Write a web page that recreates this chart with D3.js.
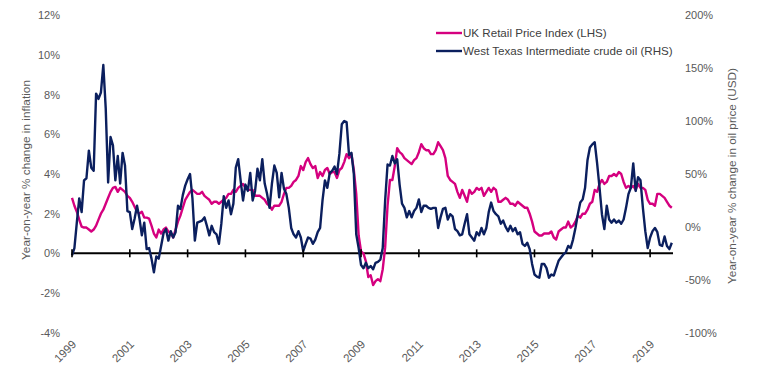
<!DOCTYPE html>
<html><head><meta charset="utf-8">
<script src="https://cdn.jsdelivr.net/npm/d3@7"></script>
<style>
body{margin:0;background:#fff}
svg{display:block;font-family:"Liberation Sans",Arial,Helvetica,sans-serif}
</style>
</head><body>
<svg id="chart" width="757" height="378"></svg>
<script>
// Monthly data, Jan 1999 - Oct 2019
const startYear = 1999;
const tickYears = ["1999","2001","2003","2005","2007","2009","2011","2013","2015","2017","2019"];
const seriesNames = ["UK Retail Price Index (LHS)", "West Texas Intermediate crude oil (RHS)"];
const leftTicks = [-4,-2,0,2,4,6,8,10,12];
const rightTicks = [-100,-50,0,50,100,150,200];

// UK RPI year-on-year % (LHS)
const rpi = [
 2.8,2.4,2.1,1.7,1.35,1.3,1.3,1.2,1.1,1.2,1.4,1.7,
 2.0,2.2,2.5,2.8,3.1,3.3,3.35,3.1,3.3,3.2,3.1,2.9,
 2.8,2.6,2.35,2.1,2.0,2.1,1.8,1.8,1.75,1.4,1.0,0.8,
 1.2,1.0,1.2,1.3,1.1,1.0,0.8,1.2,1.6,1.9,2.3,2.7,
 2.9,3.1,3.2,3.1,3.0,3.0,3.1,2.9,2.8,2.7,2.5,2.6,
 2.6,2.5,2.6,2.7,2.8,3.0,3.0,3.2,3.1,3.3,3.4,3.5,
 3.3,3.2,3.2,3.2,2.9,2.9,2.9,2.8,2.7,2.5,2.4,2.2,
 2.4,2.4,2.4,2.6,3.0,3.3,3.3,3.4,3.6,3.7,3.9,4.4,
 4.2,4.6,4.8,4.5,4.3,4.4,3.8,4.1,3.9,4.2,4.3,4.0,
 4.1,4.1,3.8,4.2,4.3,4.6,5.0,4.8,5.0,4.2,3.0,0.9,
 0.1,0.0,-0.4,-1.2,-1.1,-1.6,-1.4,-1.3,-1.4,-0.8,0.3,2.4,
 3.7,3.7,4.4,5.3,5.1,5.0,4.8,4.7,4.6,4.5,4.7,4.8,
 5.1,5.5,5.3,5.2,5.2,5.0,5.0,5.2,5.6,5.4,5.2,4.8,
 3.9,3.7,3.6,3.5,3.1,2.8,3.2,2.9,2.6,3.2,3.0,3.1,
 3.3,3.2,3.3,2.9,3.1,3.3,3.1,3.3,3.2,2.6,2.6,2.7,
 2.8,2.7,2.5,2.5,2.4,2.6,2.5,2.4,2.3,2.3,2.0,1.6,
 1.1,1.0,0.9,0.9,1.0,1.0,1.0,1.1,0.8,0.7,1.1,1.2,
 1.3,1.3,1.6,1.3,1.4,1.6,1.9,1.8,2.0,2.0,2.2,2.5,
 2.6,3.2,3.1,3.5,3.7,3.5,3.6,3.9,3.9,4.0,3.9,4.1,
 4.0,3.6,3.3,3.4,3.3,3.4,3.2,3.5,3.3,3.3,3.2,2.7,
 2.5,2.5,2.4,3.0,3.0,2.9,2.8,2.6,2.4,2.3
];

// WTI crude oil year-on-year % (RHS)
const wti = [
 -27,-20,4,27,14,44,46,72,56,53,126,121,
 127,153,112,42,85,77,44,67,41,70,58,15,
 14,-2,8,20,8,-8,4,-21,-20,-30,-43,-28,
 -30,-18,-6,-2,-13,-4,-10,-5,20,17,30,39,
 45,50,27,-13,4,5,6,9,1,-8,1,-5,
 -7,-16,3,29,18,25,12,22,56,64,44,25,
 40,34,51,25,34,55,44,64,41,31,18,41,
 58,51,28,51,36,31,18,-1,-7,-10,-4,-10,
 -23,-16,-10,-11,-16,-12,-5,-1,25,44,37,51,
 53,57,50,69,97,100,99,68,70,50,-7,-20,
 -36,-39,-34,-39,-37,-40,-34,-33,-31,-20,25,59,
 58,67,60,64,40,22,18,9,15,9,15,18,
 26,14,20,20,18,17,18,18,-1,9,17,18,
 7,12,10,-2,-4,-8,-7,3,12,-7,-10,-13,
 -5,-8,-1,-7,-1,14,23,15,12,10,3,6,
 0,-4,1,-4,-1,-7,-5,-16,-18,-15,-21,-35,
 -45,-47,-48,-35,-35,-39,-48,-45,-46,-39,-32,-29,
 -26,-24,-18,-20,-12,-1,12,23,26,37,63,75,
 78,80,60,37,12,-2,20,7,4,7,4,6,
 3,7,18,31,37,60,34,47,44,18,-4,-20,
 -10,-4,-1,-5,-17,-18,-9,-18,-21,-15
];

const colors = {rpi:"#d5007f", wti:"#0b1f5e", label:"#595959", legend:"#404040"};

const svg = d3.select("#chart");
const nMonths = rpi.length;
const x = d3.scaleLinear().domain([0, nMonths - 0.5]).range([72, 673]);
const yL = d3.scaleLinear().domain([-4, 12]).range([332.7, 15.3]);
const yR = d3.scaleLinear().domain([-100, 200]).range([332.7, 15.3]);

// Left axis labels
const gL = svg.append("g").attr("transform","translate(60,0)")
  .call(d3.axisLeft(yL).tickValues(leftTicks).tickSize(0).tickPadding(0).tickFormat(d => d + "%"));
gL.select(".domain").remove();
gL.selectAll("text").attr("fill", colors.label).style("font-size","11px").style("font-family","Liberation Sans, Arial, sans-serif");

// Right axis labels
const gR = svg.append("g").attr("transform","translate(685,0)")
  .call(d3.axisRight(yR).tickValues(rightTicks).tickSize(0).tickPadding(0).tickFormat(d => d + "%"));
gR.select(".domain").remove();
gR.selectAll("text").attr("fill", colors.label).style("font-size","11px").style("font-family","Liberation Sans, Arial, sans-serif");

// Axis titles
svg.append("text").attr("transform","translate(30,170) rotate(-90)")
  .attr("text-anchor","middle").attr("fill",colors.label).style("font-size","11.8px")
  .text("Year-on-year % change in inflation");
svg.append("text").attr("transform","translate(736,176) rotate(-90)")
  .attr("text-anchor","middle").attr("fill",colors.label).style("font-size","11.8px")
  .text("Year-on-year % change in oil price (USD)");

// Series lines
const idx = d3.range(nMonths);
const lineL = d3.line().x(i => x(i)).y(i => yL(rpi[i]));
const lineR = d3.line().x(i => x(i)).y(i => yR(wti[i]));

// zero axis line
const y0 = yL(0);
svg.append("line").attr("x1", x(0)).attr("x2", x(nMonths - 0.5)).attr("y1", y0).attr("y2", y0)
  .attr("stroke","#000").attr("stroke-width",2);

svg.append("path").datum(idx).attr("d", lineL).attr("fill","none")
  .attr("stroke", colors.rpi).attr("stroke-width",2.4).attr("stroke-linejoin","round");
svg.append("path").datum(idx).attr("d", lineR).attr("fill","none")
  .attr("stroke", colors.wti).attr("stroke-width",2.4).attr("stroke-linejoin","round");

// x ticks
const tickIdx = tickYears.map(t => (+t - startYear) * 12);
svg.append("g").selectAll("line").data(tickIdx).join("line")
  .attr("x1", d => x(d)).attr("x2", d => x(d)).attr("y1", y0 - 4).attr("y2", y0 + 4)
  .attr("stroke","#000").attr("stroke-width",1.6);

// x labels
svg.append("g").selectAll("text").data(tickYears).join("text")
  .attr("transform", (d,i) => `translate(${x(tickIdx[i]) + 5},345) rotate(-45)`)
  .attr("text-anchor","end").attr("fill",colors.label).style("font-size","11.5px")
  .text(d => d);

// Legend
const legend = svg.append("g");
const legY = [33, 51];
const legCol = [colors.rpi, colors.wti];
seriesNames.forEach((n,i) => {
  legend.append("line").attr("x1",436).attr("x2",462).attr("y1",legY[i]).attr("y2",legY[i])
    .attr("stroke",legCol[i]).attr("stroke-width",2.4);
  legend.append("text").attr("x",463).attr("y",legY[i]).attr("dy","0.35em")
    .attr("fill",colors.legend).style("font-size","11.6px").text(n);
});
</script>
</body></html>
